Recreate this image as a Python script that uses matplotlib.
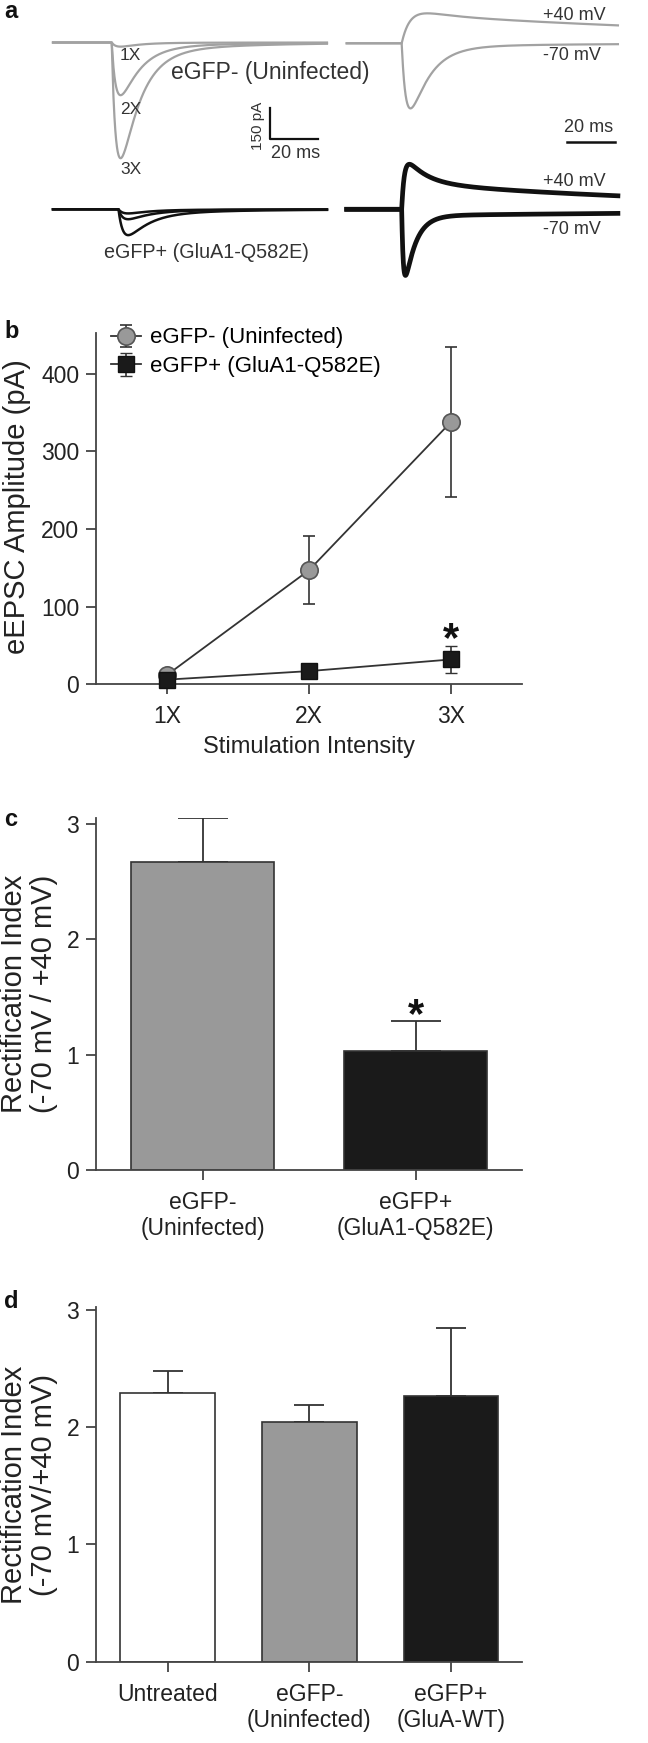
import numpy as np
import matplotlib
matplotlib.use('Agg')
import matplotlib.pyplot as plt

plt.rcParams['font.family'] = ['Liberation Sans', 'DejaVu Sans']

W, H = 648, 1743

# ---- panel a: example eEPSC traces ----
# peak amplitudes (pA) at 1X / 2X / 3X stimulation
uninf_peaks = [20, 255, 560]
q582e_peaks = [20, 48, 125]
# kinetics: rise (ms), fast decay (ms), slow decay (ms), fast fraction
uninf_kin = (2.5, 8.0, 40.0, 0.95)
q582e_kin = (2.5, 9.0, 40.0, 0.90)
# rectification example traces: peak (pA, signed), rise, fast decay, slow decay, fast fraction
uninf_ri = {'+40 mV': (145, 4.0, 10.0, 180.0, 0.30),
            '-70 mV': (-315, 2.5, 8.0, 60.0, 0.97)}
q582e_ri = {'+40 mV': (218, 1.2, 8.0, 130.0, 0.55),
            '-70 mV': (-320, 0.8, 4.5, 200.0, 0.94)}

# ---- panel b ----
stim_labels = ['1X', '2X', '3X']
uninf_mean = [12, 147, 338]
uninf_sem = [5, 44, 97]
q582e_mean = [6, 17, 32]
q582e_sem = [3, 5, 17]

# ---- panel c ----
groups_c = ['eGFP-\n(Uninfected)', 'eGFP+\n(GluA1-Q582E)']
ri_c = [2.67, 1.03]
ri_c_sem = [0.38, 0.26]

# ---- panel d ----
groups_d = ['Untreated', 'eGFP-\n(Uninfected)', 'eGFP+\n(GluA-WT)']
ri_d = [2.29, 2.04, 2.26]
ri_d_sem = [0.19, 0.15, 0.58]

GRAY = '#a2a2a2'
BAR_GRAY = '#999999'
DARK = '#333333'
SPINE = '#444444'


def epsc(t, rise, tau_f, tau_s, frac):
    tc = np.clip(t, 0, None)
    s = np.where(t > 0, (1 - np.exp(-tc / rise)) *
                 (frac * np.exp(-tc / tau_f) + (1 - frac) * np.exp(-tc / tau_s)), 0.0)
    return s / s.max()


def fx(x):
    return x / W


def fy(y):
    return 1 - y / H


fig = plt.figure(figsize=(W / 100, H / 100), dpi=100)

# panel a in ms / pA units (48 px = 20 ms, 31 px = 150 pA)
ms_px = 20 / 48
pa_px = 150 / 31
ax_a = fig.add_axes([0, fy(290), 1, 290 / H])
ax_a.set_xlim(0, W * ms_px)
ax_a.set_ylim(-290 * pa_px, 0)
ax_a.axis('off')

t_left = np.arange(53 * ms_px, 327 * ms_px, 0.05)
for amp in uninf_peaks:
    ax_a.plot(t_left, -42.5 * pa_px - amp * epsc(t_left - 111.7 * ms_px, *uninf_kin),
              color=GRAY, lw=1.6)
for amp in q582e_peaks:
    ax_a.plot(t_left, -209.3 * pa_px - amp * epsc(t_left - 118.5 * ms_px, *q582e_kin),
              color='#111111', lw=1.8)

t_right = np.arange(346.7 * ms_px, 618 * ms_px, 0.05)
for name, (amp, r, tf, ts, f) in uninf_ri.items():
    ax_a.plot(t_right, -43.3 * pa_px + amp * epsc(t_right - 401.7 * ms_px, r, tf, ts, f),
              color=GRAY, lw=1.6)
for name, (amp, r, tf, ts, f) in q582e_ri.items():
    ax_a.plot(t_right, -209.3 * pa_px + amp * epsc(t_right - 401.7 * ms_px, r, tf, ts, f),
              color='#111111', lw=3.4)

# scale bars
x0 = 270 * ms_px
y0 = -139 * pa_px
ax_a.plot([x0, x0, x0 + 20], [y0 + 150, y0, y0], color='#111111', lw=1.6)
x1 = 567 * ms_px
ax_a.plot([x1, x1 + 20], [-141.7 * pa_px] * 2, color='#111111', lw=1.8)

fig.text(fx(258), fy(126), '150 pA', rotation=90, ha='center', va='center', fontsize=11, color=DARK)
fig.text(fx(296), fy(153), '20 ms', ha='center', va='center', fontsize=13, color=DARK)
fig.text(fx(589), fy(128), '20 ms', ha='center', va='center', fontsize=13, color=DARK)
for lab, yy in zip(stim_labels, [56, 109, 170]):
    fig.text(fx(120), fy(yy), lab, ha='left', va='center', fontsize=12.5, color=DARK)
fig.text(fx(171), fy(72), 'eGFP- (Uninfected)', ha='left', va='center', fontsize=16.5, color=DARK)
fig.text(fx(104), fy(253), 'eGFP+ (GluA1-Q582E)', ha='left', va='center', fontsize=14.2, color=DARK)
for lab, yy in zip(['+40 mV', '-70 mV', '+40 mV', '-70 mV'], [15, 55, 182, 229]):
    fig.text(fx(543), fy(yy), lab, ha='left', va='center', fontsize=13, color=DARK)


def style(ax):
    for s in ['top', 'right']:
        ax.spines[s].set_visible(False)
    for s in ['left', 'bottom']:
        ax.spines[s].set_color(SPINE)
        ax.spines[s].set_linewidth(1.3)
    ax.tick_params(direction='out', length=7, width=1.3, color=SPINE,
                   labelsize=16.5, labelcolor='#222222', pad=5)


# ---- panel b ----
ax_b = fig.add_axes([fx(96), fy(684.3), 426 / W, (684.3 - 332.7) / H])
x = np.arange(1, 4)
ax_b.errorbar(x, uninf_mean, yerr=uninf_sem, fmt='-o', color=DARK, lw=1.3,
              ms=12.5, mfc=BAR_GRAY, mec='#555555', mew=1.2, ecolor=DARK,
              elinewidth=1.2, capsize=4, capthick=1.2, clip_on=False, zorder=3,
              label='eGFP- (Uninfected)')
ax_b.errorbar(x, q582e_mean, yerr=q582e_sem, fmt='-s', color=DARK, lw=1.3,
              ms=12, mfc='#1a1a1a', mec='#111111', mew=1.0, ecolor=DARK,
              elinewidth=1.2, capsize=4, capthick=1.2, clip_on=False, zorder=4,
              label='eGFP+ (GluA1-Q582E)')
ax_b.set_xlim(0.5, 3.5)
ax_b.set_ylim(0, 453)
ax_b.set_yticks([0, 100, 200, 300, 400])
ax_b.set_xticks(x)
ax_b.set_xticklabels(stim_labels)
style(ax_b)
ax_b.tick_params(axis='x', pad=8)
ax_b.set_xlabel('Stimulation Intensity', fontsize=17, color='#222222', labelpad=6)
ax_b.text(3, 43, '*', ha='center', va='baseline',
          fontsize=30, fontweight='bold', color='#111111')
leg = ax_b.legend(loc='upper left', bbox_to_anchor=(0.035, 1.015), frameon=False,
                  fontsize=16, handlelength=1.35, handletextpad=0.4,
                  labelspacing=0.35, borderaxespad=0, borderpad=0)
fig.text(fx(17), fy(507), 'eEPSC Amplitude (pA)', rotation=90, ha='center', va='center',
         fontsize=21, color='#222222')

# ---- panel c ----
ax_c = fig.add_axes([fx(96), fy(1170), 426 / W, (1170 - 818) / H])
xc = np.arange(len(groups_c))
ax_c.bar(xc, ri_c, width=0.67, color=[BAR_GRAY, '#1a1a1a'], edgecolor=DARK, lw=1.2, zorder=2)
ax_c.errorbar(xc, ri_c, yerr=[[0, 0], ri_c_sem], fmt='none', ecolor=DARK,
              elinewidth=1.3, capsize=18, capthick=1.3, zorder=1)
ax_c.set_xlim(-0.5, 1.5)
ax_c.set_ylim(0, 3.05)
ax_c.set_yticks([0, 1, 2, 3])
ax_c.set_xticks(xc)
ax_c.set_xticklabels(groups_c)
style(ax_c)
ax_c.tick_params(axis='x', pad=8)
ax_c.text(1, 1.24, '*', ha='center', va='baseline',
          fontsize=30, fontweight='bold', color='#111111')
fig.text(fx(29), fy(994), 'Rectification Index\n(-70 mV / +40 mV)', rotation=90,
         ha='center', va='center', fontsize=21, color='#222222', linespacing=1.1)

# ---- panel d ----
ax_d = fig.add_axes([fx(96), fy(1661.7), 426 / W, (1661.7 - 1307.2) / H])
xd = np.arange(len(groups_d))
ax_d.bar(xd, ri_d, width=0.667, color=['white', BAR_GRAY, '#1a1a1a'], edgecolor=DARK,
         lw=1.2, zorder=2)
ax_d.errorbar(xd, ri_d, yerr=[[0, 0, 0], ri_d_sem], fmt='none', ecolor=DARK,
              elinewidth=1.3, capsize=11, capthick=1.3, zorder=1)
ax_d.set_xlim(-0.505, 2.5)
ax_d.set_ylim(0, 3.02)
ax_d.set_yticks([0, 1, 2, 3])
ax_d.set_xticks(xd)
ax_d.set_xticklabels(groups_d)
style(ax_d)
ax_d.tick_params(axis='x', pad=8)
fig.text(fx(29), fy(1485), 'Rectification Index\n(-70 mV/+40 mV)', rotation=90,
         ha='center', va='center', fontsize=21, color='#222222', linespacing=1.1)

for letter, yy in zip('abcd', [12, 332, 819, 1302]):
    fig.text(fx(4), fy(yy), letter, ha='left', va='center', fontsize=17,
             fontweight='bold', color='#111111')

fig.savefig('out.png', dpi=100)
